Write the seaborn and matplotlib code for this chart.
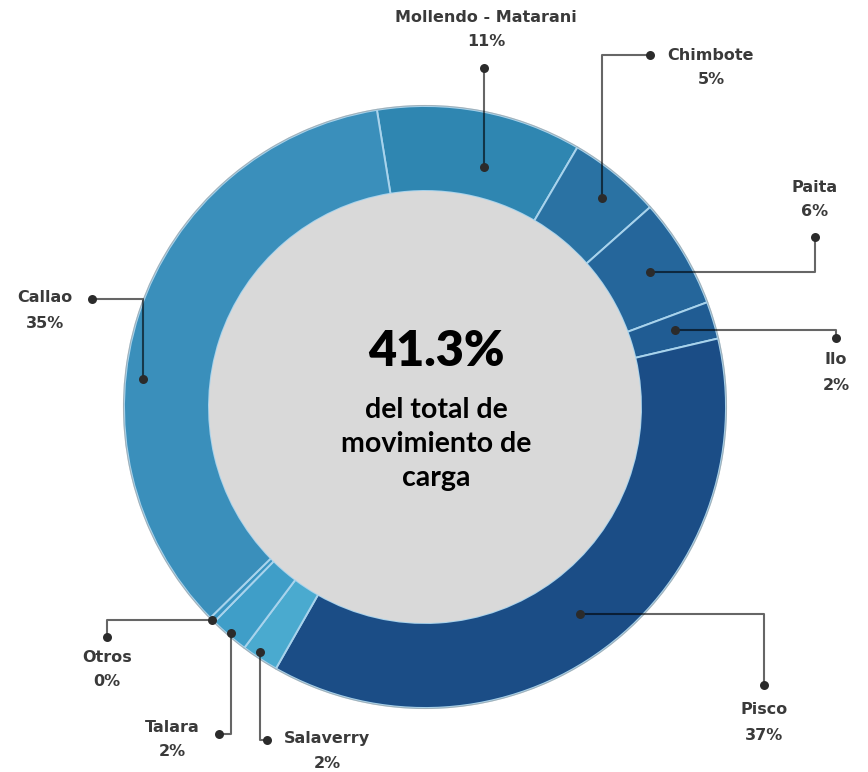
import numpy as np
import matplotlib
matplotlib.use("Agg")
import matplotlib.pyplot as plt
import seaborn as sns

# ---------------- data ----------------
ports = ["Mollendo - Matarani", "Chimbote", "Paita", "Ilo", "Pisco",
         "Salaverry", "Talara", "Otros", "Callao"]
shares = [11.0, 5.0, 5.9, 2.0, 36.9, 2.0, 2.1, 0.3, 34.8]
pct_labels = ["11%", "5%", "6%", "2%", "37%", "2%", "2%", "0%", "35%"]
colors = ["#2f86b1", "#2a72a3", "#25669b", "#205c93", "#1b4d86",
          "#4aaacf", "#3f9ec8", "#3a95c2", "#3a8fbb"]
center_value = "41.3%"
center_text = "del total de\nmovimiento de\ncarga"

# ---------------- layout (pixels, origin top-left) ----------------
W, H = 868, 772
CX, CY = 425, 407
R_OUT, R_IN = 301, 216
START = -9.2  # degrees clockwise from 12 o'clock

# where on each wedge the leader dot sits (fraction of span, fraction of radius)
dot_frac = [0.58, 0.55, 0.5, 0.45, 0.5, 0.6, 0.5, 0.5, 0.40]
dot_rad = [0.82, 0.91, 0.87, 0.87, 0.86, 0.98, 0.99, 1.0, 0.94]
# label-side dot (px) and routing: 'v' = vertical first, 'h' = horizontal first
label_dot = [(484, 68), (650, 55), (815, 237), (836, 338), (764, 685),
             (267, 740), (219, 734), (107, 637), (92, 299)]
route = ["v", "v", "h", "h", "h", "v", "v", "h", "v"]
# text anchor (px), name line center
text_pos = [(486, 17), (711, 55), (815, 187), (836, 360), (764, 710),
            (327, 739), (172, 727), (107, 657), (45, 298)]

sns.set_theme(style="white")
plt.rcParams['font.family'] = ['DejaVu Sans']

fig = plt.figure(figsize=(W / 100, H / 100), dpi=100)
ax = fig.add_axes([0, 0, 1, 1])


def Y(y):
    return H - y


ax.pie(shares, colors=colors, startangle=90 - START, counterclock=False,
       center=(CX, Y(CY)), radius=R_OUT,
       wedgeprops=dict(width=R_OUT - R_IN, edgecolor="#a8d3ec", linewidth=1.4))
ax.add_patch(plt.Circle((CX, Y(CY)), R_OUT + 0.5, fill=False,
                        edgecolor="#9a9a9a", linewidth=0.8, alpha=0.6))
ax.add_patch(plt.Circle((CX, Y(CY)), R_IN, facecolor="#d9d9d9",
                        edgecolor="none"))

# leader lines + labels
cum = np.concatenate([[0], np.cumsum(shares)])
total = cum[-1]
for i, name in enumerate(ports):
    a0 = START + cum[i] / total * 360
    a1 = START + cum[i + 1] / total * 360
    th = np.deg2rad(a0 + dot_frac[i] * (a1 - a0))
    r = dot_rad[i] * R_OUT
    wx = CX + r * np.sin(th)
    wy = CY - r * np.cos(th)
    lx, ly = label_dot[i]
    if route[i] == "v":
        xs = [wx, wx, lx]
        ys = [wy, ly, ly]
    else:
        xs = [wx, lx, lx]
        ys = [wy, wy, ly]
    ax.plot(xs, [Y(v) for v in ys], color="black", alpha=0.6, lw=1.5,
            solid_capstyle="butt", zorder=5)
    ax.scatter([wx, lx], [Y(wy), Y(ly)], s=42, color="#2b2b2b",
               zorder=6, linewidths=0)
    tx, ty = text_pos[i]
    ax.text(tx, Y(ty), name, ha="center", va="center", fontsize=11.5,
            fontweight="bold", color="#3a3a3a")
    ax.text(tx, Y(ty + 25), pct_labels[i], ha="center", va="center",
            fontsize=11.5, fontweight="bold", color="#3a3a3a")

ax.text(CX + 11, Y(352), center_value, ha="center", va="center",
        fontsize=35, fontweight="heavy", color="black", family=["Lato", "DejaVu Sans"])
ax.text(CX + 11, Y(444), center_text, ha="center", va="center",
        fontsize=20.5, fontweight="bold", color="black", linespacing=1.38,
        family=["Lato", "DejaVu Sans"])

ax.set_xlim(0, W)
ax.set_ylim(0, H)
ax.set_aspect("equal")
ax.axis("off")
fig.savefig("out.png", dpi=100)
